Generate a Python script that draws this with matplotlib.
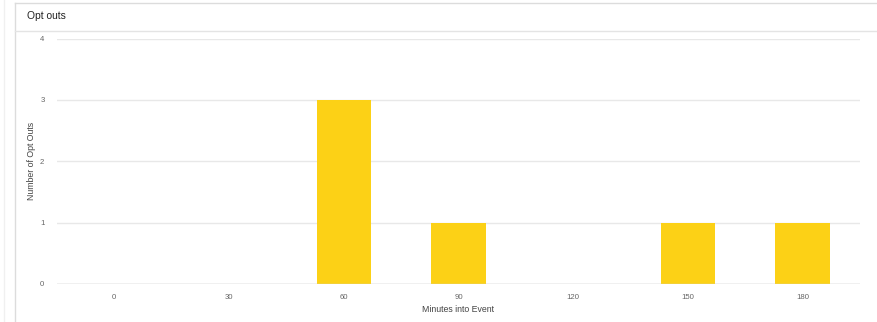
import matplotlib
matplotlib.use("Agg")
import matplotlib.pyplot as plt
from matplotlib.lines import Line2D

# Opt-out counts per 30-minute mark
minutes = ["0", "30", "60", "90", "120", "150", "180"]
opt_outs = [0, 0, 3, 1, 0, 1, 1]
y_ticks = [0, 1, 2, 3, 4]

plt.rcParams["font.family"] = ["Liberation Sans", "DejaVu Sans"]

W, H = 878, 322
fig = plt.figure(figsize=(W / 100, H / 100), dpi=100)
fig.patch.set_facecolor("white")

# Panel frame and header divider
frame_col = "#dcdcdc"
def px_x(x):
    return x / W
def px_y(y):
    return 1 - y / H
fig.add_artist(Line2D([px_x(15), 1], [px_y(2.5), px_y(2.5)], color=frame_col, lw=1))
fig.add_artist(Line2D([px_x(15.5), px_x(15.5)], [px_y(2.5), 0], color=frame_col, lw=1))
fig.add_artist(Line2D([px_x(15), 1], [px_y(30.5), px_y(30.5)], color="#e4e4e4", lw=1))
fig.add_artist(Line2D([px_x(3.5), px_x(3.5)], [px_y(0), 0], color="#f0f0f0", lw=1))
fig.text(px_x(27), px_y(16), "Opt outs", fontsize=7.4, color="#222222", va="center", ha="left")

ax = fig.add_axes([px_x(57), px_y(284), px_x(860) - px_x(57), px_y(38.5) - px_y(284)])
x = range(len(minutes))
ax.bar(x, opt_outs, width=0.475, color="#FCD116", zorder=3)

ax.set_xlim(-0.5, len(minutes) - 0.5)
ax.set_ylim(0, 4)
ax.set_yticks(y_ticks)
ax.set_yticklabels([str(v) for v in y_ticks])
ax.set_xticks(list(x))
ax.set_xticklabels(minutes)

ax.grid(axis="y", color="#e8e8e8", lw=1, zorder=0)
ax.axhline(0, color="#cccccc", lw=1, zorder=4)
for s in ax.spines.values():
    s.set_visible(False)
ax.tick_params(axis="both", length=0, labelsize=5.6, labelcolor="#666666")
ax.tick_params(axis="y", pad=9)
ax.tick_params(axis="x", pad=7)

ax.set_xlabel("Minutes into Event", fontsize=6.3, color="#444444", labelpad=3)
ax.set_ylabel("Number of Opt Outs", fontsize=6.3, color="#444444")
ax.yaxis.set_label_coords((36 - 57) / 803, 0.5)

fig.savefig("out.png", dpi=100, facecolor="white")
